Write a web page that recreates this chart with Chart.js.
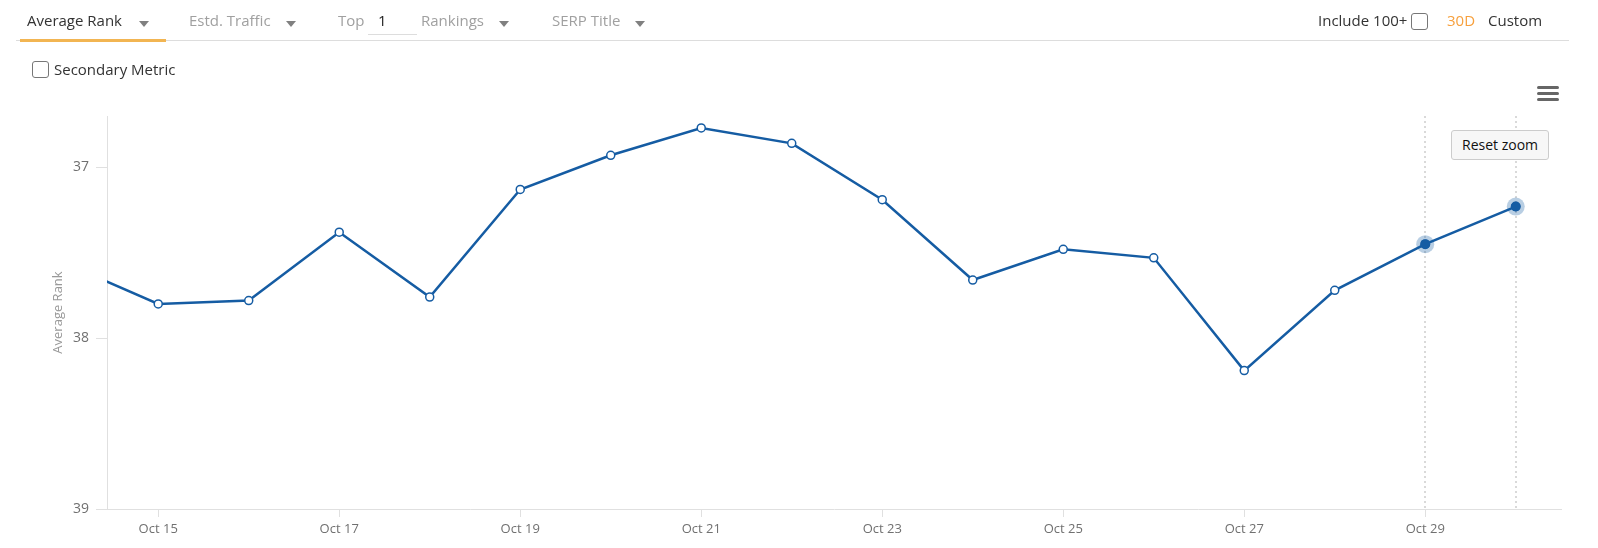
<!DOCTYPE html>
<html>
<head>
<meta charset="utf-8">
<script src="https://cdn.jsdelivr.net/npm/chart.js@4.4.1/dist/chart.umd.min.js"></script>
<style>
    html, body { margin: 0; padding: 0; background: #fff; }
    body { width: 1598px; height: 548px; position: relative; overflow: hidden; font-family: 'Open Sans', sans-serif; }
    #rankChart { position: absolute; left: 0; top: 0; }
    .ui { position: absolute; white-space: nowrap; z-index: 2; }
    .tab { font-size: 15px; color: #a0a0a0; top: 10px; }
    .tab.active { color: #333; }
    .caret { position: absolute; width: 0; height: 0; border-left: 5px solid transparent; border-right: 5px solid transparent; border-top: 6px solid #808080; top: 21px; z-index: 2; }
    .box { position: absolute; width: 15px; height: 15px; border: 1px solid #777; border-radius: 3px; background: #fff; z-index: 2; }
    .bar { position: absolute; left: 1537px; width: 22px; height: 3px; border-radius: 2px; background: #666; z-index: 2; }
</style>
</head>
<body>
<canvas id="rankChart" width="1598" height="548"></canvas>

<div class="ui tab active" style="left:27px;">Average Rank</div>
<div class="caret" style="left:139px;"></div>
<div class="ui tab" style="left:189px;">Estd. Traffic</div>
<div class="caret" style="left:286px;"></div>
<div class="ui tab" style="left:338px;">Top</div>
<div class="ui" style="left:378px; top:10px; font-size:15px; color:#222;">1</div>
<div class="ui" style="left:368px; top:34px; width:49px; height:1px; background:#ddd;"></div>
<div class="ui tab" style="left:421px;">Rankings</div>
<div class="caret" style="left:499px;"></div>
<div class="ui tab" style="left:552px;">SERP Title</div>
<div class="caret" style="left:635px;"></div>

<div class="ui" style="left:16px; top:40px; width:1553px; height:1px; background:#ddd;"></div>
<div class="ui" style="left:20px; top:39px; width:146px; height:3px; background:#f2b552;"></div>

<div class="ui" style="left:1318px; top:10px; font-size:15px; color:#333;">Include 100+</div>
<div class="box" style="left:1411px; top:13px;"></div>
<div class="ui" style="left:1447px; top:10px; font-size:15px; color:#f7a03d;">30D</div>
<div class="ui" style="left:1488px; top:10px; font-size:15px; color:#333;">Custom</div>

<div class="box" style="left:32px; top:61px;"></div>
<div class="ui" style="left:54px; top:59px; font-size:15px; color:#333;">Secondary Metric</div>

<div class="bar" style="top:86px;"></div>
<div class="bar" style="top:92px;"></div>
<div class="bar" style="top:98px;"></div>

<div class="ui" style="left:1451px; top:130px; width:96px; height:28px; border:1px solid #ccc; border-radius:3px; background:#f7f7f7; font-size:14px; color:#111; line-height:28px; text-align:center;">Reset zoom</div>

<script>
const days = [14, 15, 16, 17, 18, 19, 20, 21, 22, 23, 24, 25, 26, 27, 28, 29, 30];
const avgRank = [37.57, 37.80, 37.78, 37.38, 37.76, 37.13, 36.93, 36.77, 36.86, 37.19, 37.66, 37.48, 37.53, 38.19, 37.72, 37.45, 37.23];
const tickDays = [15, 17, 19, 21, 23, 25, 27, 29];
const rankTicks = [37, 38, 39];
const hoverDays = [29, 30];

const lineBlue = '#155ca3';

const hoverMarks = {
    id: 'hoverMarks',
    beforeDatasetsDraw(chart) {
        const ctx = chart.ctx;
        const x = chart.scales.x;
        const area = chart.chartArea;
        ctx.save();
        ctx.strokeStyle = '#d9d9d9';
        ctx.lineWidth = 2;
        ctx.setLineDash([2, 3]);
        hoverDays.forEach(d => {
            const px = Math.round(x.getPixelForValue(d));
            ctx.beginPath();
            ctx.moveTo(px, area.top);
            ctx.lineTo(px, area.bottom);
            ctx.stroke();
        });
        ctx.restore();
    },
    afterDatasetsDraw(chart) {
        const ctx = chart.ctx;
        const meta = chart.getDatasetMeta(0);
        ctx.save();
        hoverDays.forEach(d => {
            const pt = meta.data[days.indexOf(d)];
            ctx.fillStyle = 'rgba(21, 92, 163, 0.3)';
            ctx.beginPath();
            ctx.arc(pt.x, pt.y, 9, 0, Math.PI * 2);
            ctx.fill();
            ctx.fillStyle = lineBlue;
            ctx.beginPath();
            ctx.arc(pt.x, pt.y, 5, 0, Math.PI * 2);
            ctx.fill();
        });
        ctx.restore();
    }
};

function renderRankChart() {
    const ctx = document.getElementById('rankChart').getContext('2d');
    new Chart(ctx, {
        type: 'line',
        data: {
            datasets: [{
                label: 'Average Rank',
                data: days.map((d, i) => ({ x: d, y: avgRank[i] })),
                borderColor: lineBlue,
                borderWidth: 2.5,
                tension: 0,
                pointRadius: 4,
                pointBorderWidth: 1.5,
                pointBackgroundColor: '#fff',
                pointBorderColor: lineBlue
            }]
        },
        options: {
            responsive: false,
            animation: false,
            events: [],
            layout: { padding: { top: 116, left: 46, right: 37, bottom: 0 } },
            plugins: { legend: { display: false }, tooltip: { enabled: false } },
            scales: {
                x: {
                    type: 'linear',
                    min: 14.434,
                    max: 30.5,
                    afterBuildTicks: s => { s.ticks = tickDays.map(v => ({ value: v })); },
                    afterFit: s => { s.height = 39; },
                    grid: { drawOnChartArea: false, tickLength: 8, color: '#e0e0e0' },
                    border: { color: '#e0e0e0' },
                    ticks: {
                        padding: 4,
                        maxRotation: 0,
                        color: '#707070',
                        font: { family: 'Open Sans', size: 13 },
                        callback: v => 'Oct ' + v
                    }
                },
                y: {
                    reverse: true,
                    min: 36.7,
                    max: 39,
                    afterBuildTicks: s => { s.ticks = rankTicks.map(v => ({ value: v })); },
                    afterFit: s => { s.width = 61; },
                    grid: { drawOnChartArea: false, tickLength: 11, color: '#e0e0e0' },
                    border: { color: '#e0e0e0' },
                    ticks: {
                        padding: 7,
                        color: '#707070',
                        font: { family: 'Open Sans', size: 14 }
                    },
                    title: {
                        display: true,
                        text: 'Average Rank',
                        color: '#999',
                        font: { family: 'Open Sans', size: 13 }
                    }
                }
            }
        },
        plugins: [hoverMarks]
    });
}

document.addEventListener('DOMContentLoaded', renderRankChart);
</script>
</body>
</html>
